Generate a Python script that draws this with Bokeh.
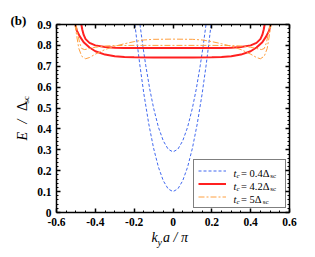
import numpy as np
from bokeh.plotting import figure
from bokeh.models import (FixedTicker, LinearAxis, Legend, LegendItem, Label, Range1d)
from bokeh.embed import file_html
from bokeh.resources import INLINE

# ---- data (positive half, curves are mirror-symmetric in k) ----
blue1_k = [0, 0.025, 0.05, 0.075, 0.1, 0.125, 0.15, 0.17, 0.185, 0.196]
blue1_E = [0.100, 0.113, 0.152, 0.217, 0.308, 0.425, 0.568, 0.701, 0.812, 0.9]
blue2_k = [0, 0.025, 0.05, 0.075, 0.1, 0.12, 0.14, 0.155, 0.17]
blue2_E = [0.290, 0.303, 0.343, 0.408, 0.500, 0.592, 0.702, 0.795, 0.9]

red1_k = [0, 0.1, 0.2, 0.25, 0.3, 0.35, 0.4, 0.43, 0.45, 0.46, 0.467, 0.472]
red1_E = [0.787, 0.787, 0.787, 0.788, 0.789, 0.792, 0.800, 0.812, 0.830, 0.850, 0.875, 0.9]
red2_k = [0, 0.1, 0.2, 0.25, 0.3, 0.35, 0.4, 0.43, 0.46, 0.48, 0.495, 0.503]
red2_E = [0.742, 0.742, 0.743, 0.745, 0.748, 0.756, 0.772, 0.790, 0.815, 0.843, 0.870, 0.9]

orng1_k = [0, 0.1, 0.15, 0.2, 0.25, 0.3, 0.35, 0.4, 0.43, 0.45, 0.47, 0.485, 0.495, 0.505]
orng1_E = [0.830, 0.829, 0.826, 0.818, 0.808, 0.796, 0.780, 0.758, 0.742, 0.736, 0.748, 0.785, 0.840, 0.9]
orng2_k = [0, 0.2, 0.3, 0.35, 0.4, 0.43, 0.455, 0.47, 0.48, 0.49, 0.5]
orng2_E = [0.800, 0.800, 0.799, 0.797, 0.791, 0.785, 0.780, 0.785, 0.810, 0.850, 0.9]

x_ticks = [-0.6, -0.4, -0.2, 0, 0.2, 0.4, 0.6]
x_tick_labels = ["-0.6", "-0.4", "-0.2", "0", "0.2", "0.4", "0.6"]
y_ticks = [0, 0.1, 0.2, 0.3, 0.4, 0.5, 0.6, 0.7, 0.8, 0.9]
y_tick_labels = ["0", "0.1", "0.2", "0.3", "0.4", "0.5", "0.6", "0.7", "0.8", "0.9"]

legend_values = ["0.4", "4.2", "5"]

XMIN, XMAX = -0.6, 0.6
YMIN, YMAX = 0.0, 0.9

# ---- layout geometry (canvas pixels) ----
W, H = 315, 257
FL, FR, FT, FB = 56, 289, 24, 212          # data box edges on the canvas
XS = (FR - FL) / (XMAX - XMIN)
YS = (FB - FT) / (YMAX - YMIN)


def dx(px):
    return XMIN + (px - FL) / XS


def dy(py):
    return YMIN + (FB - py) / YS


def mirror(k, E):
    k = np.asarray(k, float)
    E = np.asarray(E, float)
    return np.concatenate([-k[::-1], k[1:]]), np.concatenate([E[::-1], E[1:]])


SERIF = "Liberation Serif"

p = figure(width=W, height=H, min_border=0,
           x_range=Range1d(dx(0), dx(W)), y_range=Range1d(dy(H), dy(0)),
           output_backend="svg", toolbar_location=None,
           x_axis_type=None, y_axis_type=None)
p.grid.visible = False
p.outline_line_color = None
p.background_fill_color = "white"
p.border_fill_color = "white"

BLUE = "#4169f0"
RED = "#ff2020"
ORANGE = "#ffa040"

kb1, Eb1 = mirror(blue1_k, blue1_E)
kb2, Eb2 = mirror(blue2_k, blue2_E)
kr1, Er1 = mirror(red1_k, red1_E)
kr2, Er2 = mirror(red2_k, red2_E)
ko1, Eo1 = mirror(orng1_k, orng1_E)
ko2, Eo2 = mirror(orng2_k, orng2_E)

rb1 = p.line(kb1, Eb1, line_color=BLUE, line_width=1, line_dash="3 2")
rb2 = p.line(kb2, Eb2, line_color=BLUE, line_width=1, line_dash="3 2")
rr1 = p.line(kr1, Er1, line_color=RED, line_width=2)
rr2 = p.line(kr2, Er2, line_color=RED, line_width=2)
ro1 = p.line(ko1, Eo1, line_color=ORANGE, line_width=1, line_dash="6 2 2 2")
ro2 = p.line(ko2, Eo2, line_color=ORANGE, line_width=1, line_dash="6 2 2 2")


def minor_list(ticks, n):
    out = []
    for a, b in zip(ticks[:-1], ticks[1:]):
        for i in range(1, n):
            out.append(a + (b - a) * i / n)
    return out


def make_axis(ticks, labels, nminor, bounds, loc, show_labels=True):
    ax = LinearAxis(fixed_location=loc, bounds=bounds)
    ax.ticker = FixedTicker(ticks=ticks, minor_ticks=minor_list(ticks, nminor))
    ax.axis_line_color = "black"
    ax.axis_line_width = 1.5
    ax.major_tick_in = 4
    ax.major_tick_out = 0
    ax.minor_tick_in = 2
    ax.minor_tick_out = 0
    ax.major_tick_line_width = 1.5
    ax.minor_tick_line_width = 1
    ax.major_label_overrides = {t: l for t, l in zip(ticks, labels)}
    ax.major_label_text_font = SERIF
    ax.major_label_text_font_style = "bold"
    ax.major_label_text_font_size = "11.5px"
    ax.major_label_text_color = "black"
    ax.major_label_standoff = 5
    if not show_labels:
        ax.major_label_text_alpha = 0
        ax.major_label_text_font_size = "1px"
        ax.major_label_standoff = 0
    return ax


p.add_layout(make_axis(x_ticks, x_tick_labels, 4, (XMIN, XMAX), YMIN), "below")
p.add_layout(make_axis(y_ticks, y_tick_labels, 5, (YMIN, YMAX), XMIN), "left")
p.add_layout(make_axis(x_ticks, x_tick_labels, 4, (XMIN, XMAX), YMAX, False), "above")
p.add_layout(make_axis(y_ticks, y_tick_labels, 5, (YMIN, YMAX), XMAX, False), "right")

# ---- legend (labels drawn separately to get subscripts) ----
legend = Legend(items=[LegendItem(label=" ", renderers=[rb1]),
                       LegendItem(label=" ", renderers=[rr1]),
                       LegendItem(label=" ", renderers=[ro1])],
                location=(193, H - 208), margin=0, padding=4, spacing=0,
                glyph_width=28, glyph_height=13, label_height=13, label_width=50,
                label_standoff=5, border_line_color="black", border_line_width=1.5,
                background_fill_alpha=0, label_text_font_size="10px")
p.add_layout(legend)


def lab(px, py, text, size, style="normal", angle=0.0):
    p.add_layout(Label(x=dx(px), y=dy(py), text=text, text_font=SERIF,
                       text_font_style=style, text_font_size=f"{size}px",
                       text_color="black", text_baseline="middle", text_align="left",
                       angle=angle))


row_py = [172.5, 185.5, 198.5]
val_w = {"0.4": 29.3, "4.2": 29.3, "5": 21.8}
for ry, v in zip(row_py, legend_values):
    lab(233, ry, "t", 10.5, "italic")
    lab(236, ry + 3, "c", 7, "italic")
    lab(240.5, ry, " = " + v + "Δ", 10.5)
    lab(240.5 + val_w[v], ry + 3, "sc", 7)

# x-axis title  k_y a / π
lab(151, 237, "k", 14, "italic")
lab(157, 241.5, "y", 10, "italic")
lab(162.5, 237, "a / π", 14, "italic")

# y-axis title  E / Δ_sc (rotated)
ang = np.pi / 2
lab(22, 140, "E", 14, "italic", ang)
lab(22, 123, "/", 14, "italic", ang)
lab(22, 110.5, "Δ", 14, "normal", ang)
lab(25.5, 103, "sc", 9, "normal", ang)

lab(10, 20, "(b)", 13, "bold")

open("out.html", "w").write(file_html(p, INLINE))
